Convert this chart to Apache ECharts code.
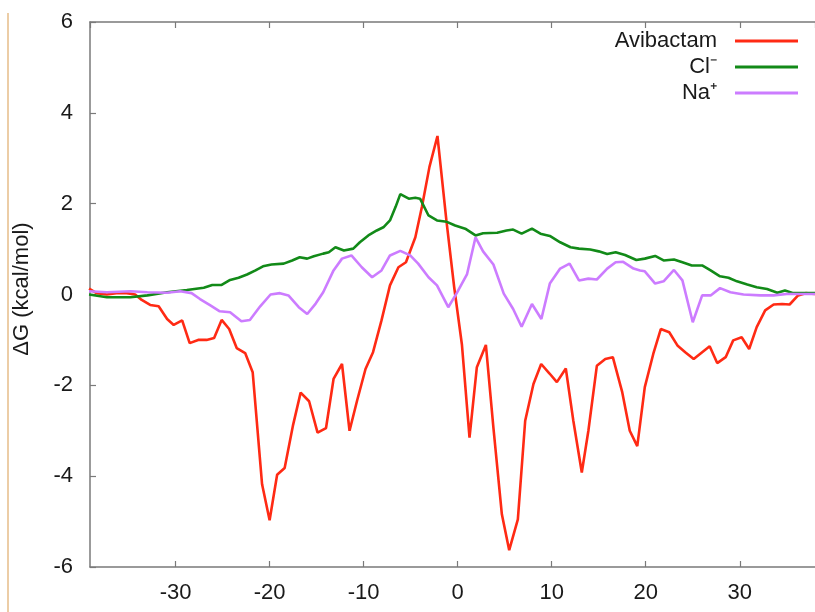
<!DOCTYPE html>
<html>
<head>
<meta charset="utf-8">
<script src="https://cdn.jsdelivr.net/npm/echarts@6/dist/echarts.min.js"></script>
<style>
  html, body { margin: 0; padding: 0; background: #ffffff; }
  #chart { width: 815px; height: 612px; }
</style>
</head>
<body>
<div id="chart"></div>
<script>
// ---- data ----
const seriesNames = ['Avibactam', 'Cl\u207B', 'Na\u207A'];

const avibactamX = [-39.2, -38.4, -37.3, -36.3, -35.2, -34.3, -33.6, -32.7, -31.8, -30.9,
  -30.2, -29.3, -28.5, -27.6, -26.7, -25.9, -25.1, -24.3, -23.5, -22.6,
  -21.8, -20.8, -20.0, -19.2, -18.4, -17.5, -16.7, -15.8, -14.9, -14.0,
  -13.2, -12.3, -11.5, -10.7, -9.8, -9.0, -8.1, -7.2, -6.3, -5.5,
  -4.5, -3.8, -3.0, -2.15, -1.2, -0.37, 0.45, 1.26, 2.04, 3.0,
  3.8, 4.7, 5.48, 6.4, 7.18, 8.06, 8.88, 9.77, 10.55, 11.5,
  12.3, 13.2, 13.9, 14.8, 15.7, 16.5, 17.5, 18.3, 19.1, 19.9,
  20.8, 21.6, 22.5, 23.4, 24.2, 25.1, 26.0, 26.8, 27.6, 28.5,
  29.3, 30.2, 31.0, 31.8, 32.7, 33.6, 34.5, 35.3, 36.2, 37.0, 38.0];
const avibactamY = [0.13, 0.03, 0.0, 0.03, 0.03, 0.0, -0.12, -0.23, -0.26, -0.54,
  -0.67, -0.57, -1.07, -1.0, -1.0, -0.96, -0.56, -0.76, -1.18, -1.29,
  -1.71, -4.18, -4.97, -3.97, -3.82, -2.87, -2.16, -2.35, -3.04, -2.94,
  -1.86, -1.53, -3.0, -2.34, -1.64, -1.27, -0.57, 0.2, 0.6, 0.71,
  1.26, 1.93, 2.81, 3.49, 1.63, 0.16, -1.1, -3.15, -1.6, -1.11,
  -2.93, -4.84, -5.63, -4.95, -2.78, -1.97, -1.53, -1.74, -1.93, -1.63,
  -2.78, -3.92, -3.0, -1.57, -1.42, -1.38, -2.15, -3.0, -3.34, -2.04,
  -1.31, -0.76, -0.83, -1.13, -1.27, -1.42, -1.27, -1.14, -1.51, -1.38,
  -1.01, -0.94, -1.2, -0.72, -0.35, -0.22, -0.21, -0.22, -0.02, 0.03, 0.01];

const chlorideX = [-39.2, -37.3, -34.8, -33.0, -30.9, -28.8, -27.0, -26.1, -25.1, -24.2,
  -23.3, -22.4, -21.5, -20.7, -19.8, -18.5, -17.6, -16.8, -16.0, -15.3,
  -14.3, -13.7, -13.0, -12.1, -11.1, -10.4, -9.5, -8.6, -7.9, -7.2,
  -6.6, -6.1, -5.2, -4.5, -4.0, -3.1, -2.2, -1.15, -0.27, 0.8,
  1.9, 2.7, 4.2, 5.2, 5.9, 6.8, 7.9, 8.8, 9.8, 10.9,
  12.0, 12.9, 14.1, 15.0, 15.9, 16.8, 17.8, 19.0, 19.9, 21.0,
  21.9, 23.0, 23.9, 24.9, 26.0, 26.9, 27.9, 28.8, 29.7, 30.8,
  31.8, 32.9, 34.0, 34.8, 35.7, 38.0];
const chlorideY = [0.0, -0.06, -0.06, -0.02, 0.05, 0.1, 0.15, 0.21, 0.21, 0.32,
  0.37, 0.44, 0.53, 0.62, 0.66, 0.68, 0.75, 0.82, 0.79, 0.84,
  0.9, 0.93, 1.04, 0.97, 1.01, 1.15, 1.3, 1.41, 1.48, 1.63,
  1.93, 2.21, 2.11, 2.13, 2.11, 1.74, 1.63, 1.6, 1.52, 1.45,
  1.3, 1.35, 1.36, 1.41, 1.43, 1.34, 1.45, 1.34, 1.29, 1.15,
  1.04, 1.01, 0.99, 0.95, 0.89, 0.93, 0.87, 0.76, 0.79, 0.85,
  0.75, 0.77, 0.71, 0.64, 0.64, 0.53, 0.4, 0.37, 0.29, 0.22,
  0.16, 0.12, 0.04, 0.09, 0.03, 0.03];

const sodiumX = [-39.2, -37.3, -34.8, -33.0, -30.9, -29.5, -28.3, -27.4, -26.3, -25.3,
  -24.2, -23.0, -22.1, -21.0, -19.9, -18.9, -18.0, -16.9, -16.0, -15.1,
  -14.3, -13.2, -12.3, -11.3, -10.2, -9.1, -8.1, -7.2, -6.1, -5.05,
  -4.2, -3.1, -2.2, -1.0, -0.1, 1.0, 1.9, 2.7, 3.8, 4.9,
  5.9, 6.8, 7.9, 8.9, 9.8, 10.9, 11.9, 12.9, 13.9, 14.8,
  15.9, 16.8, 17.6, 18.7, 19.4, 19.9, 21.0, 21.9, 23.0, 23.9,
  25.0, 26.0, 26.9, 27.9, 29.0, 30.4, 32.2, 33.6, 35.0, 38.0];
const sodiumY = [0.07, 0.05, 0.07, 0.05, 0.04, 0.07, 0.03, -0.1, -0.24, -0.37,
  -0.39, -0.59, -0.56, -0.26, 0.0, 0.03, -0.02, -0.28, -0.43, -0.2,
  0.05, 0.53, 0.79, 0.86, 0.6, 0.38, 0.53, 0.86, 0.96, 0.86,
  0.68, 0.38, 0.2, -0.28, 0.03, 0.45, 1.26, 0.95, 0.66, 0.02,
  -0.32, -0.71, -0.21, -0.54, 0.24, 0.57, 0.68, 0.31, 0.35, 0.33,
  0.57, 0.71, 0.72, 0.57, 0.53, 0.51, 0.24, 0.29, 0.54, 0.31,
  -0.61, -0.02, -0.02, 0.14, 0.05, 0.0, -0.02, -0.02, 0.01, 0.01];

const yTicks = [-6, -4, -2, 0, 2, 4, 6];
const yTitle = '\u0394G (kcal/mol)';
// ----------------------------------------------

function pairs(xs, ys) { return xs.map((x, i) => [x, ys[i]]); }

const colors = ['#ff2a14', '#128a18', '#cc7cff'];
const FONT = '"Liberation Sans", Arial, Helvetica, sans-serif';
const axisGrey = '#7a7a7a';

const chart = echarts.init(document.getElementById('chart'), null, { renderer: 'canvas' });

const legendTops = [30, 56, 82];

chart.setOption({
  animation: false,
  backgroundColor: '#ffffff',
  grid: { left: 90, right: 0, top: 22, bottom: 45, containLabel: false },
  xAxis: [{
    type: 'value',
    min: -39.1, max: 38,
    splitNumber: 8,
    axisLine: { show: true, onZero: false, lineStyle: { color: axisGrey, width: 1.5 } },
    axisTick: { show: true, inside: true, length: 6, lineStyle: { color: axisGrey, width: 1.2 } },
    axisLabel: { show: true, showMinLabel: false, showMaxLabel: false, margin: 15,
      fontFamily: FONT, fontSize: 22, color: '#1a1a1a' },
    splitLine: { show: false }
  }, {
    type: 'value', position: 'top',
    min: -39.1, max: 38,
    splitNumber: 8,
    axisLine: { show: true, onZero: false, lineStyle: { color: axisGrey, width: 1.5 } },
    axisTick: { show: true, inside: true, length: 6, lineStyle: { color: axisGrey, width: 1.2 } },
    axisLabel: { show: false },
    splitLine: { show: false }
  }],
  yAxis: {
    type: 'value',
    min: yTicks[0], max: yTicks[yTicks.length - 1], interval: 2,
    axisLine: { show: true, onZero: false, lineStyle: { color: axisGrey, width: 1.5 } },
    axisTick: { show: true, inside: true, length: 6, lineStyle: { color: axisGrey, width: 1.2 } },
    axisLabel: { margin: 17, fontFamily: FONT, fontSize: 22, color: '#1a1a1a' },
    splitLine: { show: false }
  },
  legend: seriesNames.map((n, i) => ({
    data: [n],
    orient: 'vertical',
    right: 17,
    top: legendTops[i],
    padding: 0,
    align: 'right',
    selectedMode: false,
    icon: 'rect',
    itemWidth: 63,
    itemHeight: 3,
    textStyle: { fontFamily: FONT, fontSize: 22, color: '#1a1a1a', lineHeight: 22, padding: [0, 13, 0, 0] }
  })),
  series: [
    { name: seriesNames[0], type: 'line', data: pairs(avibactamX, avibactamY) },
    { name: seriesNames[1], type: 'line', data: pairs(chlorideX, chlorideY) },
    { name: seriesNames[2], type: 'line', data: pairs(sodiumX, sodiumY) }
  ].map((s, i) => Object.assign(s, {
    showSymbol: false, symbol: 'none', smooth: false, clip: true,
    color: colors[i],
    lineStyle: { color: colors[i], width: 2.6 }
  })),
  graphic: [
    { type: 'line', shape: { x1: 8, y1: 13, x2: 8, y2: 612 },
      style: { stroke: '#e6bd88', lineWidth: 1.5 }, silent: true },
    { type: 'text', x: 22, y: 289, rotation: Math.PI / 2,
      style: { text: yTitle, font: '22px ' + FONT, fill: '#1a1a1a',
        textAlign: 'center', textVerticalAlign: 'middle' }, silent: true }
  ]
});
</script>
</body>
</html>
